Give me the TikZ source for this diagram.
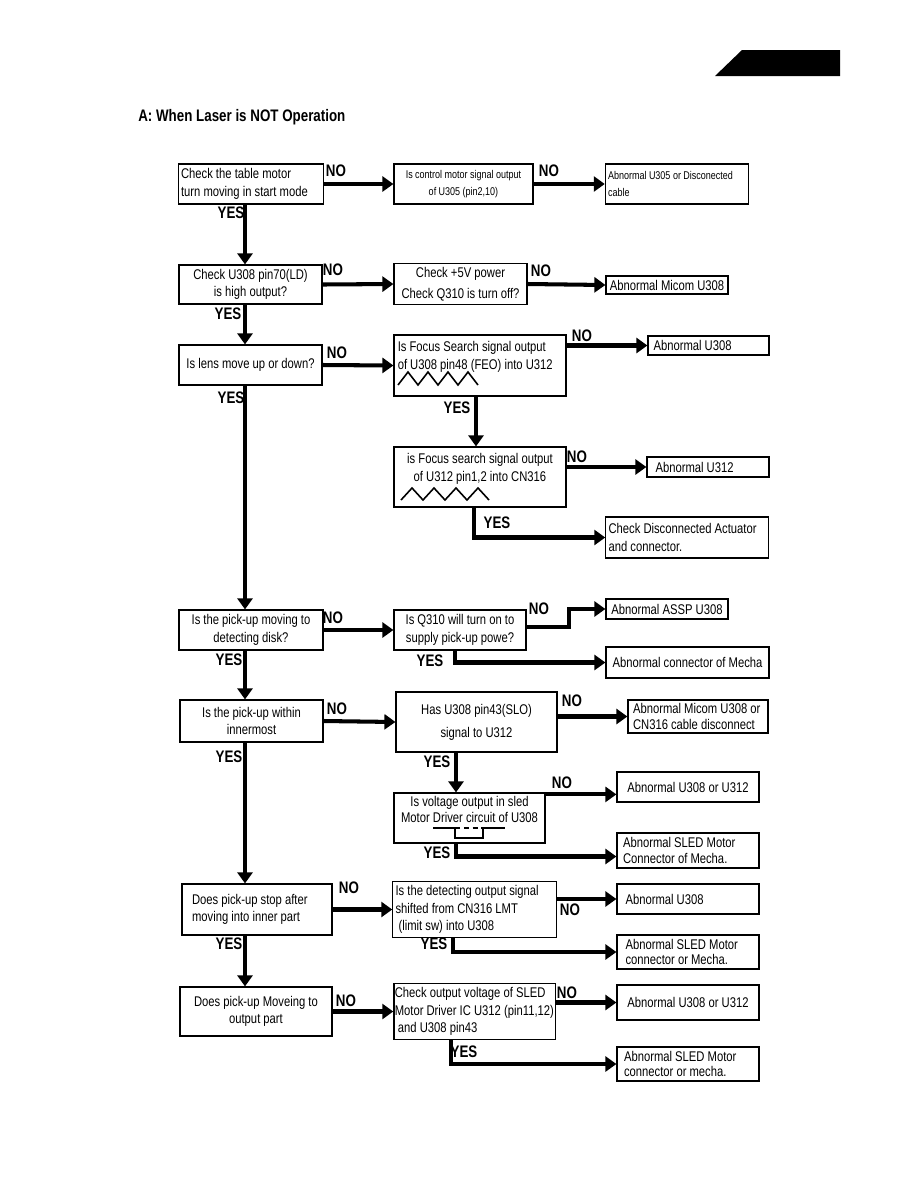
\documentclass[tikz,border=0pt]{standalone}
\usepackage{fontspec}
\setmainfont{Liberation Sans}[FakeStretch=0.8]
\usetikzlibrary{arrows.meta}
\hyphenpenalty=10000
\tikzset{
    flowBox/.style={draw, line width=0.7pt, inner sep=2pt, inner xsep=1.5pt, align=center, font=\fontsize{8}{10}\selectfont},
    smallBox/.style={flowBox, font=\fontsize{6.4}{9.5}\selectfont},
    boxText/.style={inner sep=0pt, font=\fontsize{8}{10}\selectfont},
    flowArrow/.style={line width=2.3pt, -{Triangle[length=0.22cm,width=0.3cm]}},
    branchTag/.style={inner sep=0pt, font=\fontsize{9.5}{11}\selectfont\bfseries},
    signalWave/.style={line width=0.9pt, line join=miter}
}

\begin{document}
\begin{tikzpicture}[x=0.02cm, y=-0.02cm]
    \useasboundingbox (0,0) rectangle (918,1188);
    \fill (715,76) -- (742,50) -- (840,50) -- (840,76) -- cycle;
    \node[branchTag, anchor=west] (title) at (138,117) {A: When Laser is NOT Operation};
    \coordinate (spine) at (245,0);

    \node[flowBox, minimum width=2.88cm, minimum height=0.8cm, text width=2.8cm, align=flush left] (b1) at (251,184) {Check the table motor\\turn moving in start mode};
    \node[smallBox, minimum width=2.78cm, minimum height=0.8cm] (b2) at (463.5,184) {Is control motor signal output\\of U305 (pin2,10)};
    \node[smallBox, minimum width=2.84cm, minimum height=0.8cm, text width=2.76cm, align=flush left] (b3) at (677,184) {Abnormal U305 or Disconected\\cable};

    \node[flowBox, minimum width=2.86cm, minimum height=0.78cm] (b4) at (250.5,284.5) {Check U308 pin70(LD)\\is high output?};
    \node[flowBox, minimum width=2.66cm, minimum height=0.8cm] (b5) at (460.5,284) {Check +5V power\\[2pt]Check Q310 is turn off?};
    \node[flowBox, minimum width=2.44cm, minimum height=0.36cm] (b6) at (667,285) {Abnormal Micom U308};

    \node[flowBox, minimum width=2.86cm, minimum height=0.8cm] (b7) at (250.5,365) {Is lens move up or down?};
    \node[flowBox, minimum width=3.44cm, minimum height=1.22cm] (b8) at (480,365.5) {};
    \node[boxText, anchor=north west, align=flush left] (b8text) at ([xshift=0.08cm,yshift=-0.14cm]b8.north west) {Is Focus Search signal output\\of U308 pin48 (FEO) into U312};
    \draw[signalWave] (398,385) \foreach \k in {1,...,4} {-- ++(10,-13) -- ++(10,13)};
    \node[flowBox, minimum width=2.42cm, minimum height=0.38cm, text width=2.2cm, align=flush left] (b9) at (708.5,345.5) {Abnormal U308};

    \node[flowBox, minimum width=3.44cm, minimum height=1.2cm] (b10) at (480,477) {};
    \node[boxText, anchor=north, align=center] (b10text) at ([yshift=-0.14cm]b10.north) {is Focus search signal output\\of U312 pin1,2 into CN316};
    \draw[signalWave] (401,500) \foreach \k in {1,...,4} {-- ++(11,-12) -- ++(11,12)};
    \node[flowBox, minimum width=2.44cm, minimum height=0.4cm, text width=2.1cm, align=flush left] (b11) at (708,467) {Abnormal U312};
    \node[flowBox, minimum width=3.24cm, minimum height=0.82cm, text width=3.14cm, align=flush left] (b12) at (687,537.5) {Check Disconnected Actuator\\and connector.};

    \node[flowBox, minimum width=2.88cm, minimum height=0.8cm] (b13) at (251,630) {Is the pick-up moving to\\detecting disk?};
    \node[flowBox, minimum width=2.64cm, minimum height=0.8cm] (b14) at (460,630) {Is Q310 will turn on to\\supply pick-up powe?};
    \node[flowBox, minimum width=2.44cm, minimum height=0.4cm] (b15) at (667,609) {Abnormal ASSP U308};
    \node[flowBox, minimum width=3.26cm, minimum height=0.62cm] (b16) at (687.5,662.5) {Abnormal connector of Mecha};

    \node[flowBox, minimum width=2.86cm, minimum height=0.84cm] (b17) at (251.5,721) {Is the pick-up within\\innermost};
    \node[flowBox, minimum width=3.22cm, minimum height=1.2cm] (b18) at (476.5,722) {Has U308 pin43(SLO)\\[3pt]signal to U312};
    \node[flowBox, minimum width=2.8cm, minimum height=0.58cm, text width=2.6cm, align=flush left, font=\fontsize{8}{9}\selectfont] (b19) at (698,716.5) {Abnormal Micom U308 or\\CN316 cable disconnect};

    \node[flowBox, minimum width=3.02cm, minimum height=1.0cm] (b20) at (469.5,818) {};
    \node[boxText, anchor=north, align=center, font=\fontsize{8}{8.8}\selectfont] (b20text) at ([yshift=-0.08cm]b20.north) {Is voltage output in sled\\Motor Driver circuit of U308};
    \draw[signalWave] (433,828) -- (455,828) -- (455,838) -- (483,838) -- (483,828) -- (505,828);
    \draw[signalWave, densely dashed] (455,828) -- (483,828);
    \node[flowBox, minimum width=2.84cm, minimum height=0.6cm] (b21) at (688,787) {Abnormal U308 or U312};
    \node[flowBox, minimum width=2.84cm, minimum height=0.7cm, text width=2.6cm, align=flush left, font=\fontsize{8}{9}\selectfont] (b22) at (688,850.5) {Abnormal SLED Motor\\Connector of Mecha.};

    \node[flowBox, minimum width=3.0cm, minimum height=1.02cm, text width=2.6cm, align=flush left] (b23) at (257,909.5) {Does pick-up stop after\\moving into inner part};
    \node[flowBox, minimum width=3.22cm, minimum height=1.02cm, text width=3.16cm, align=flush left] (b24) at (474.5,909.5) {Is the detecting output signal\\shifted from CN316 LMT\\\ (limit sw) into U308};
    \node[flowBox, minimum width=2.84cm, minimum height=0.6cm, text width=2.5cm, align=flush left] (b25) at (688,899) {Abnormal U308};
    \node[flowBox, minimum width=2.84cm, minimum height=0.68cm, text width=2.5cm, align=flush left, font=\fontsize{8}{9}\selectfont] (b26) at (688,952) {Abnormal SLED Motor\\connector or Mecha.};

    \node[flowBox, minimum width=3.04cm, minimum height=0.98cm] (b27) at (256,1011.5) {Does pick-up Moveing to\\output part};
    \node[flowBox, minimum width=3.22cm, minimum height=0.98cm, text width=3.19cm, align=flush left, inner xsep=0.5pt] (b28) at (474.5,1011.5) {Check output voltage of SLED\\Motor Driver IC U312 (pin11,12)\\\ and U308 pin43};
    \node[flowBox, minimum width=2.84cm, minimum height=0.7cm] (b29) at (688,1002.5) {Abnormal U308 or U312};
    \node[flowBox, minimum width=2.84cm, minimum height=0.68cm, text width=2.56cm, align=flush left, font=\fontsize{8}{9}\selectfont] (b30) at (688,1064) {Abnormal SLED Motor\\connector or mecha.};

    \draw[flowArrow] (b1.east) -- (b2.west);
    \draw[flowArrow] (b2.east) -- (b3.west);
    \draw[flowArrow] (b1.south -| spine) -- (b4.north -| spine);
    \draw[flowArrow] (b4.east) -- (b5.west);
    \draw[flowArrow] (b5.east) -- (b6.west);
    \draw[flowArrow] (b4.south -| spine) -- (b7.north -| spine);
    \draw[flowArrow] (b7.east) -- (b8.west);
    \draw[flowArrow] (b8.east |- b9.west) -- (b9.west);
    \draw[flowArrow] ([xshift=-0.08cm]b8.south) -- ([xshift=-0.08cm]b10.north);
    \draw[flowArrow] (b10.east |- b11.west) -- (b11.west);
    \draw[flowArrow] ([xshift=-0.12cm]b10.south) |- (b12.west);
    \draw[flowArrow] (b7.south -| spine) -- (b13.north -| spine);
    \draw[flowArrow] (b13.east) -- (b14.west);
    \draw[flowArrow] ([yshift=0.06cm]b14.east) -- ++(42,0) |- (b15.west);
    \draw[flowArrow] ([xshift=-0.1cm]b14.south) |- (b16.west);
    \draw[flowArrow] (b13.south -| spine) -- (b17.north -| spine);
    \draw[flowArrow] (b17.east) -- (b18.west);
    \draw[flowArrow] (b18.east |- b19.west) -- (b19.west);
    \coordinate (c18) at ([xshift=-0.41cm]b18.south);
    \draw[flowArrow] (c18) -- (c18 |- b20.north);
    \draw[flowArrow] ([yshift=-0.04cm]b20.north east) -- ([yshift=-0.04cm]b20.north east -| b21.west);
    \draw[flowArrow] (c18 |- b20.south) |- ([yshift=-0.12cm]b22.west);
    \draw[flowArrow] (b17.south -| spine) -- (b23.north -| spine);
    \draw[flowArrow] (b23.east) -- (b24.west);
    \draw[flowArrow] (b24.east |- b25.west) -- (b25.west);
    \draw[flowArrow] ([xshift=-0.43cm]b24.south) |- (b26.west);
    \draw[flowArrow] (b23.south -| spine) -- (b27.north -| spine);
    \draw[flowArrow] (b27.east) -- (b28.west);
    \draw[flowArrow] (b28.east |- b29.west) -- (b29.west);
    \draw[flowArrow] ([xshift=-0.47cm]b28.south) |- (b30.west);

    \node[branchTag] (no1) at (336,171) {NO};
    \node[branchTag] (no2) at (549,171) {NO};
    \node[branchTag] (yes1) at (231,213) {YES};
    \node[branchTag] (no3) at (333,270) {NO};
    \node[branchTag] (no4) at (541,271) {NO};
    \node[branchTag] (yes2) at (228,314) {YES};
    \node[branchTag] (no5) at (337,353) {NO};
    \node[branchTag] (no6) at (582,336) {NO};
    \node[branchTag] (yes3) at (457,408) {YES};
    \node[branchTag] (no7) at (577,457) {NO};
    \node[branchTag] (yes4) at (497,523) {YES};
    \node[branchTag] (yes5) at (231,398) {YES};
    \node[branchTag] (no8) at (333,618) {NO};
    \node[branchTag] (no9) at (539,609) {NO};
    \node[branchTag] (yes6) at (430,661) {YES};
    \node[branchTag] (yes7) at (229,660) {YES};
    \node[branchTag] (no10) at (337,709) {NO};
    \node[branchTag] (no11) at (572,701) {NO};
    \node[branchTag] (yes8) at (437,762) {YES};
    \node[branchTag] (no12) at (562,783) {NO};
    \node[branchTag] (yes9) at (437,853) {YES};
    \node[branchTag] (yes10) at (229,757) {YES};
    \node[branchTag] (no13) at (349,888) {NO};
    \node[branchTag] (no14) at (570,910) {NO};
    \node[branchTag] (yes11) at (434,944) {YES};
    \node[branchTag] (yes12) at (229,944) {YES};
    \node[branchTag] (no15) at (346,1001) {NO};
    \node[branchTag] (no16) at (567,993) {NO};
    \node[branchTag] (yes13) at (464,1052) {YES};
\end{tikzpicture}
\end{document}
